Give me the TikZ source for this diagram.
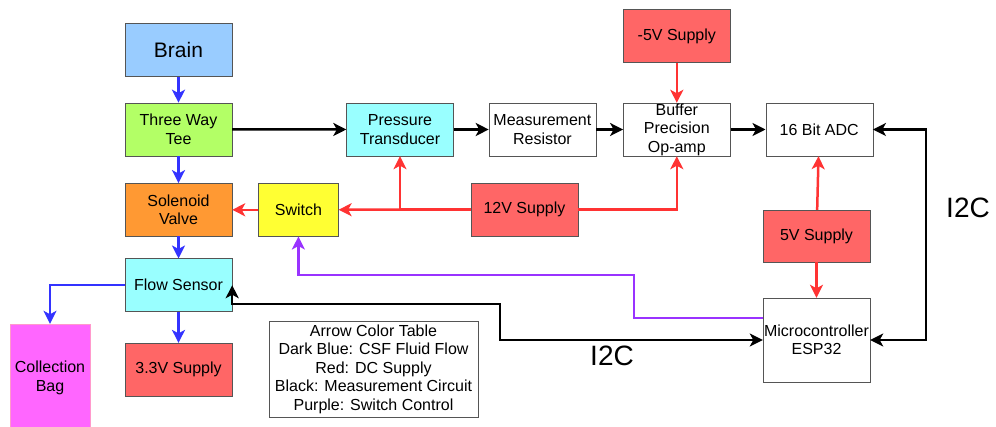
\documentclass[tikz,border=0pt]{standalone}
\usepackage{fontspec}
\setmainfont{Liberation Sans}
\usepackage{tikz}
\usetikzlibrary{arrows.meta, positioning}

\definecolor{brainblue}{HTML}{99CCFF}
\definecolor{teegreen}{HTML}{B3FF66}
\definecolor{valveorange}{HTML}{FF9933}
\definecolor{sensorcyan}{HTML}{99FFFF}
\definecolor{switchyellow}{HTML}{FFFF33}
\definecolor{supplyred}{HTML}{FF6666}
\definecolor{bagpink}{HTML}{FF66FF}
\definecolor{bagedge}{HTML}{FF99CC}
\definecolor{edgegray}{HTML}{555555}
\definecolor{fluidblue}{HTML}{3333FF}
\definecolor{powerred}{HTML}{FF3333}
\definecolor{ctrlpurple}{HTML}{9933FF}

\begin{document}
\begin{tikzpicture}[
        x=1pt, y=-1pt,
        box/.style={draw=edgegray, rectangle, align=center, minimum width=107pt, minimum height=53pt, inner sep=1pt, font=\fontsize{16}{18.5}\selectfont},
        supply/.style={box, fill=supplyred},
        tip/.style={-{Stealth[length=13pt, width=13pt, inset=3.5pt]}},
        bothtips/.style={{Stealth[length=13pt, width=13pt, inset=3.5pt]}-{Stealth[length=13pt, width=13pt, inset=3.5pt]}},
        fluid/.style={tip, line width=2.5pt, fluidblue},
        power/.style={tip, line width=2.5pt, powerred},
        meas/.style={tip, line width=2.5pt, black},
        ctrl/.style={tip, line width=2.5pt, ctrlpurple},
        biglabel/.style={font=\fontsize{28}{30}\selectfont}
    ]
        \useasboundingbox (0,0) rectangle (996,427);

        % Nodes
        \node[box, fill=brainblue, font=\fontsize{21}{24}\selectfont] (brain) at (178.5,50) {Brain};
        \node[box, fill=teegreen, below=26pt of brain] (tee) {Three Way\\Tee};
        \node[box, fill=valveorange, below=27pt of tee] (valve) {Solenoid\\Valve};
        \node[box, fill=sensorcyan, below=22pt of valve] (flowsensor) {Flow Sensor};
        \node[supply, below=31pt of flowsensor] (supplylow) {3.3V Supply};
        \node[box, fill=bagpink, draw=bagedge, minimum width=80pt, minimum height=108pt] (bag) at (50,378) {Collection\\Bag};
        \node[box, fill=switchyellow, minimum width=80pt, right=26pt of valve] (switch) {Switch};

        \node[box, fill=sensorcyan] (transducer) at (400,129.5) {Pressure\\Transducer};
        \node[box, right=35pt of transducer] (resistor) {Measurement\\Resistor};
        \node[box, inner ysep=0pt, right=27pt of resistor] (buffer) {Buffer\\Precision\\Op-amp};
        \node[supply, above=40pt of buffer] (supplyneg) {-5V Supply};
        \node[box, right=35pt of buffer] (adc) {16 Bit ADC};
        \node[supply] (supplytwelve) at (524.5,209.5) {12V Supply};
        \node[supply, minimum height=52pt] (supplyfive) at (816.5,236) {5V Supply};
        \node[box, minimum height=84pt] (mcu) at (816.5,340) {Microcontroller\\ESP32};

        \node[box, minimum width=209pt, minimum height=96pt, inner sep=0pt] (legend) at (373.5,369)
            {Arrow Color Table\\Dark Blue: CSF Fluid Flow\\Red: DC Supply\\Black: Measurement Circuit\\Purple: Switch Control};

        \coordinate (ctrlbend) at (634,275);
        \coordinate (busbend) at (500,320);

        % Fluid path
        \draw[fluid] (brain) -- (tee);
        \draw[fluid] (tee) -- (valve);
        \draw[fluid] (valve) -- (flowsensor);
        \draw[fluid] (flowsensor) -- (supplylow);
        \draw[fluid] (flowsensor.west) -| (bag.north);

        % Measurement chain
        \draw[meas] (tee) -- (transducer);
        \draw[meas] (transducer) -- (resistor);
        \draw[meas] (resistor) -- (buffer);
        \draw[meas] (buffer) -- (adc);
        \draw[meas, bothtips] (flowsensor.east) -- ++(0,19) -| (busbend) |- (mcu.west);
        \draw[meas, bothtips] (adc.east) -- ++(53,0) |- (mcu.east);

        % Supplies
        \draw[power] (supplyneg) -- (buffer);
        \draw[power] (supplytwelve) -- (switch);
        \draw[power] (supplytwelve.west) -| (transducer.south);
        \draw[power] (supplytwelve.east) -| (buffer.south);
        \draw[power] (switch) -- (valve);
        \draw[power] (supplyfive) -- (adc);
        \draw[power] (supplyfive) -- (mcu);

        % Switch control
        \draw[ctrl] ([yshift=22pt]mcu.west) -| (ctrlbend) -| (switch.south);

        % Labels
        \node[biglabel] (busleft) at (612,356) {I2C};
        \node[biglabel] (busright) at (968,208) {I2C};
    \end{tikzpicture}
\end{document}
